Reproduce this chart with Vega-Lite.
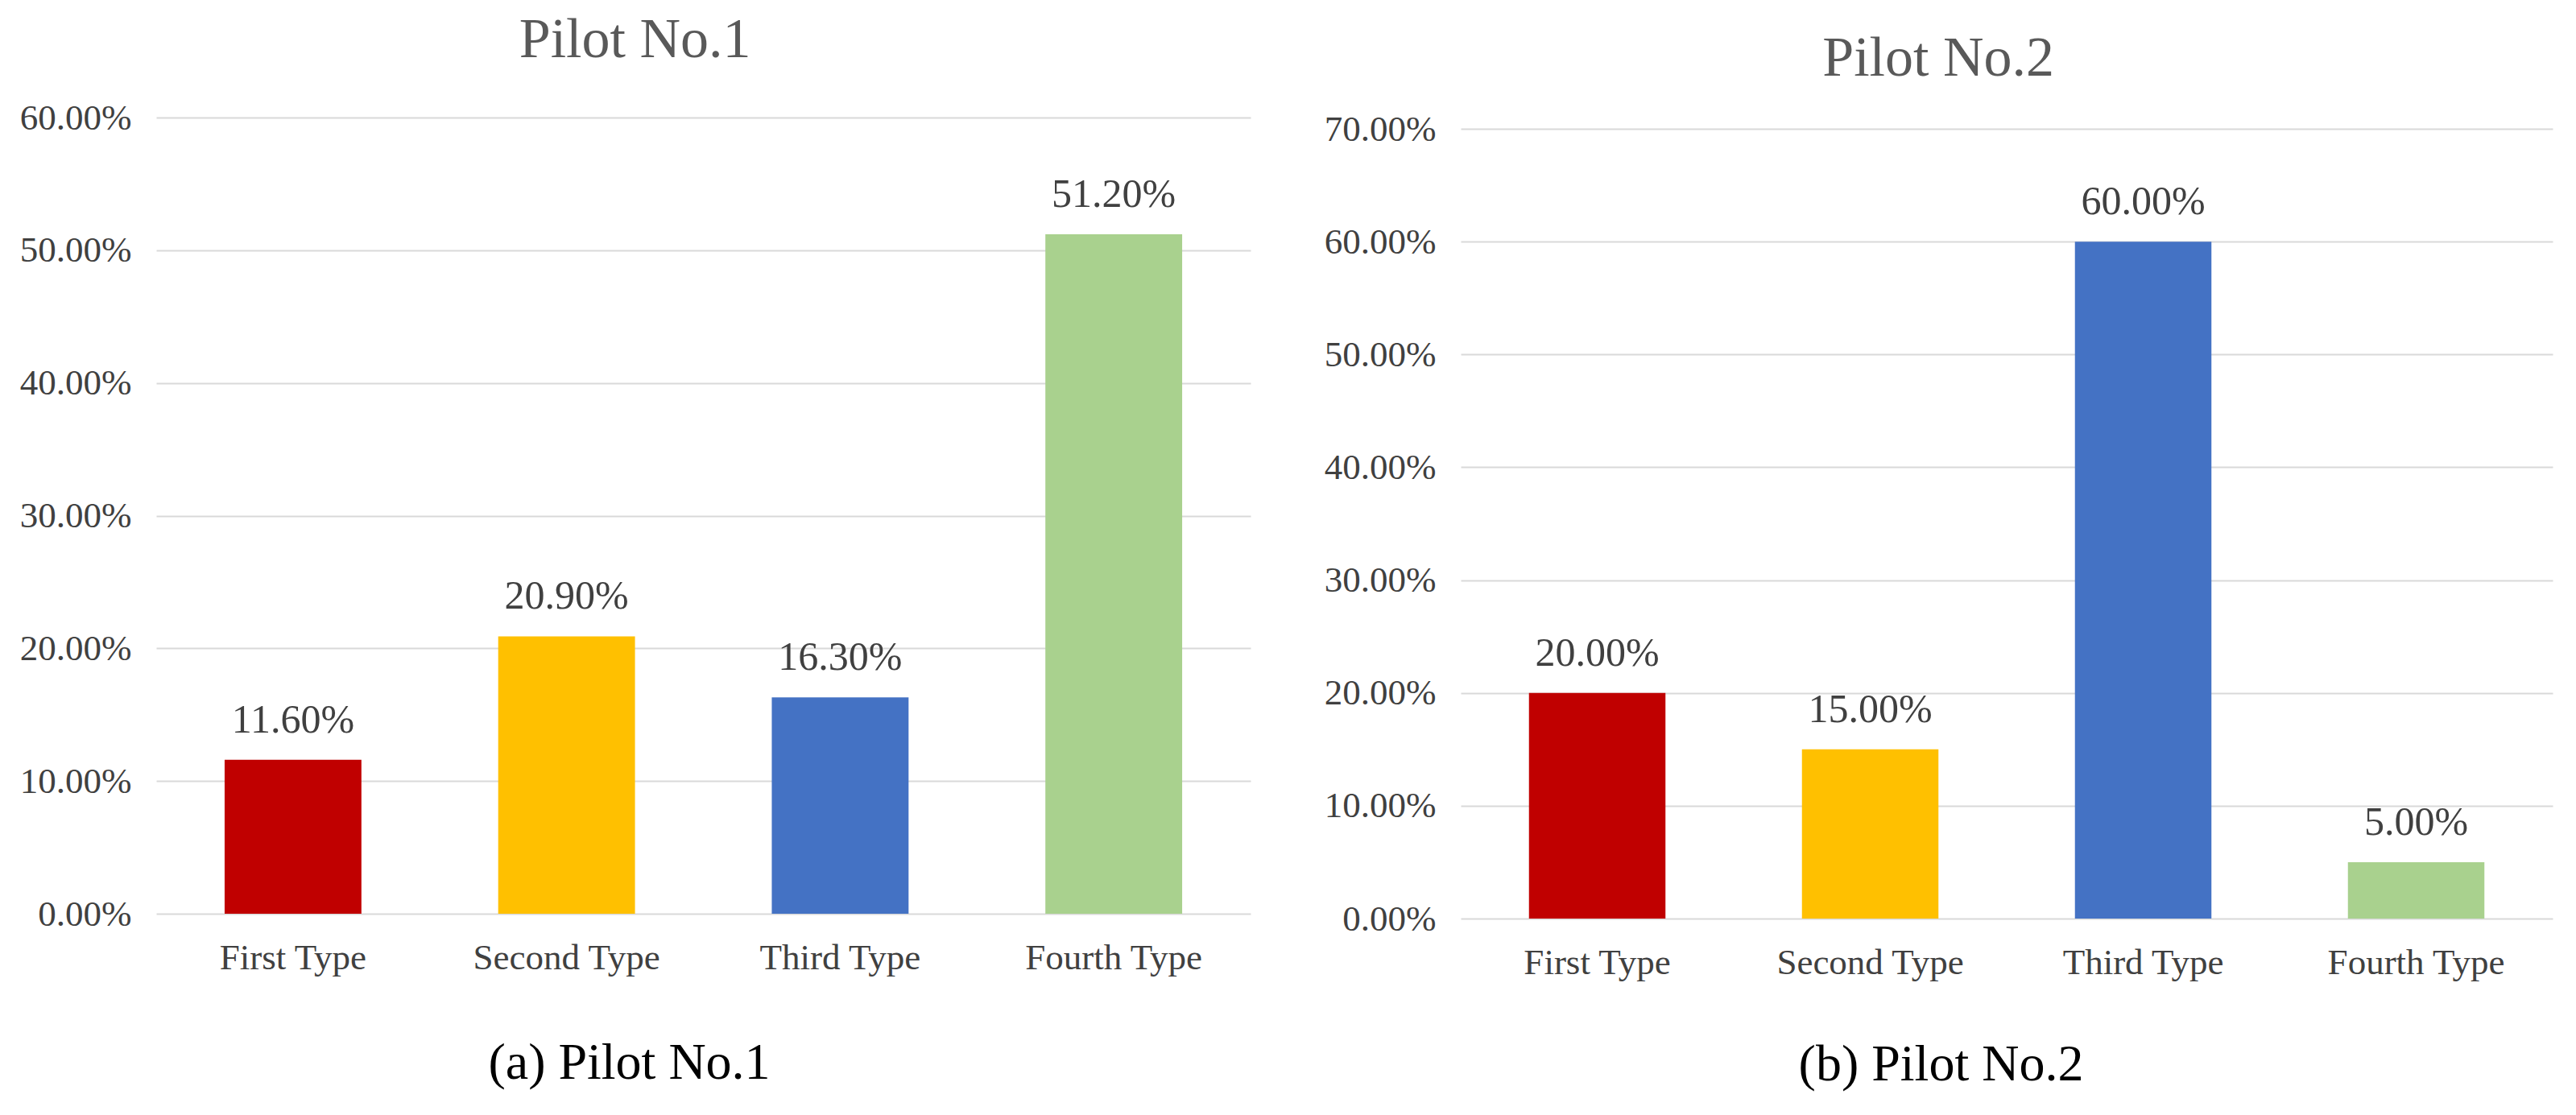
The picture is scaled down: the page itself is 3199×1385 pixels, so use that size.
{
  "$schema": "https://vega.github.io/schema/vega-lite/v6.json",
  "background": "white",
  "padding": {"left": 24, "top": 15, "right": 20, "bottom": 20},
  "config": {
    "font": "Times New Roman, Liberation Serif, serif",
    "view": {"stroke": null},
    "axis": {"labelFont": "Times New Roman, Liberation Serif, serif", "titleFont": "Times New Roman, Liberation Serif, serif", "labelLimit": 0}
  },
  "datasets": {
    "p1": [
      {"type": "First Type", "share": 0.116},
      {"type": "Second Type", "share": 0.209},
      {"type": "Third Type", "share": 0.163},
      {"type": "Fourth Type", "share": 0.512}
    ],
    "p2": [
      {"type": "First Type", "share": 0.20},
      {"type": "Second Type", "share": 0.15},
      {"type": "Third Type", "share": 0.60},
      {"type": "Fourth Type", "share": 0.05}
    ]
  },
  "spacing": 91,
  "hconcat": [
    {
      "width": 1359,
      "height": 989,
      "title": {"text": "Pilot No.1", "font": "Times New Roman, Liberation Serif, serif", "fontSize": 70, "fontWeight": "normal", "color": "#595959", "anchor": "middle", "frame": "bounds", "offset": 38},
      "data": {"name": "p1"},
      "encoding": {
        "x": {
          "field": "type", "type": "nominal", "sort": null,
          "scale": {"paddingInner": 0.5, "paddingOuter": 0.25},
          "axis": {"title": "(a)  Pilot No.1", "titleFontSize": 64, "titleFontWeight": "normal", "titleColor": "#000000", "titlePadding": 76, "titleX": 587, "titleAlign": "center",
                   "labelAngle": 0, "labelFontSize": 45, "labelColor": "#404040", "labelPadding": 32, "labelLimit": 0, "domain": false, "ticks": false}
        },
        "y": {
          "field": "share", "type": "quantitative",
          "scale": {"domain": [0, 0.6], "nice": false},
          "axis": {"title": null, "format": ".2%", "values": [0, 0.1, 0.2, 0.3, 0.4, 0.5, 0.6], "labelFontSize": 45, "labelColor": "#404040", "labelPadding": 31, "domain": false, "ticks": false, "gridColor": "#D9D9D9", "gridWidth": 2}
        }
      },
      "layer": [
        {
          "mark": {"type": "bar"},
          "encoding": {
            "color": {"field": "type", "type": "nominal", "legend": null,
              "scale": {"domain": ["First Type", "Second Type", "Third Type", "Fourth Type"], "range": ["#C00000", "#FFC000", "#4472C4", "#A9D18E"]}}
          }
        },
        {
          "mark": {"type": "text", "fontSize": 50, "color": "#404040", "baseline": "alphabetic", "dy": -34, "font": "Times New Roman, Liberation Serif, serif"},
          "encoding": {"text": {"field": "share", "type": "quantitative", "format": ".2%"}}
        }
      ]
    },
    {
      "width": 1356,
      "height": 995,
      "title": {"text": "Pilot No.2", "font": "Times New Roman, Liberation Serif, serif", "fontSize": 70, "fontWeight": "normal", "color": "#595959", "anchor": "middle", "frame": "bounds", "offset": 29},
      "data": {"name": "p2"},
      "encoding": {
        "x": {
          "field": "type", "type": "nominal", "sort": null,
          "scale": {"paddingInner": 0.5, "paddingOuter": 0.25},
          "axis": {"title": "(b)  Pilot No.2", "titleFontSize": 64, "titleFontWeight": "normal", "titleColor": "#000000", "titlePadding": 72, "titleX": 596, "titleAlign": "center",
                   "labelAngle": 0, "labelFontSize": 45, "labelColor": "#404040", "labelPadding": 32, "labelLimit": 0, "domain": false, "ticks": false}
        },
        "y": {
          "field": "share", "type": "quantitative",
          "scale": {"domain": [0, 0.71], "nice": false},
          "axis": {"title": null, "format": ".2%", "values": [0, 0.1, 0.2, 0.3, 0.4, 0.5, 0.6, 0.7], "labelFontSize": 45, "labelColor": "#404040", "labelPadding": 31, "domain": false, "ticks": false, "gridColor": "#D9D9D9", "gridWidth": 2}
        }
      },
      "layer": [
        {
          "mark": {"type": "bar"},
          "encoding": {
            "color": {"field": "type", "type": "nominal", "legend": null,
              "scale": {"domain": ["First Type", "Second Type", "Third Type", "Fourth Type"], "range": ["#C00000", "#FFC000", "#4472C4", "#A9D18E"]}}
          }
        },
        {
          "mark": {"type": "text", "fontSize": 50, "color": "#404040", "baseline": "alphabetic", "dy": -34, "font": "Times New Roman, Liberation Serif, serif"},
          "encoding": {"text": {"field": "share", "type": "quantitative", "format": ".2%"}}
        }
      ]
    }
  ]
}
